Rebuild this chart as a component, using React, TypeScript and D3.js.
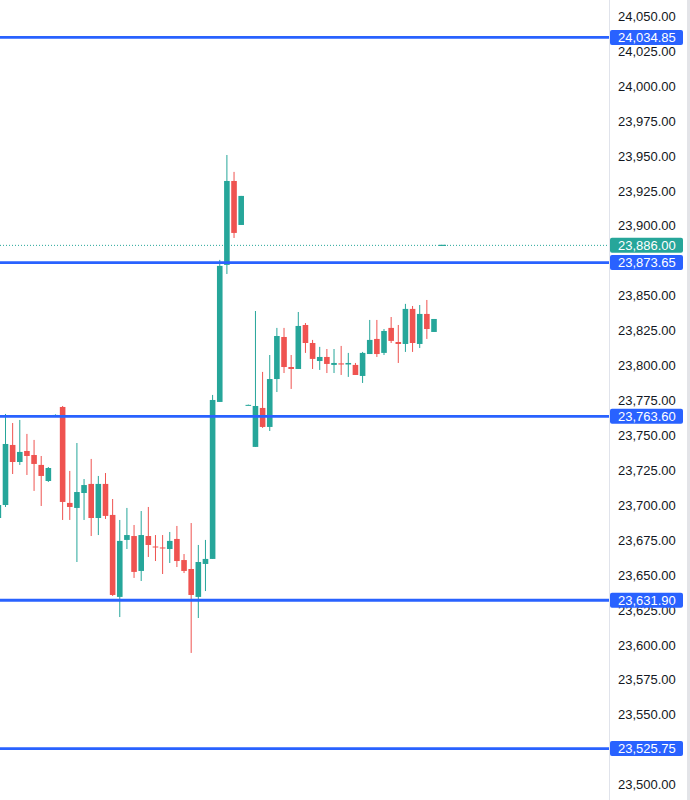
import React from "react";
import * as d3 from "d3";

// OHLC values (one per candle, left to right)
const opens = [23690.8, 23700.1, 23743.1, 23730.9, 23738.8, 23735.9, 23728.8, 23717.3, 23764.4, 23770.3,
  23701.6, 23698.0, 23708.7, 23715.2, 23690.8, 23715.2, 23693.0, 23634.3, 23675.1, 23677.9,
  23652.9, 23677.9, 23670.4, 23669.7, 23668.6, 23675.8, 23660.7, 23654.3, 23634.3, 23657.9,
  23661.5, 23773.9, 23872.0, 23932.1, 23900.6, 23771.7, 23741.7, 23769.6, 23756.0, 23790.3,
  23820.4, 23798.9, 23797.5, 23829.0, 23816.1, 23803.2, 23806.1, 23800.4, 23801.5, 23800.7,
  23800.4, 23792.5, 23808.2, 23819.0, 23809.0, 23826.9, 23816.8, 23815.4, 23840.5, 23815.4,
  23836.9, 23824.0];
const highs = [23703.7, 23765.3, 23758.8, 23761.0, 23751.0, 23746.7, 23735.2, 23727.3, 23765.0, 23771.0,
  23724.5, 23744.5, 23718.7, 23733.1, 23720.9, 23723.0, 23704.4, 23689.4, 23698.0, 23685.8,
  23695.8, 23698.7, 23678.6, 23678.6, 23680.8, 23685.1, 23665.0, 23687.2, 23671.5, 23675.1,
  23778.9, 23875.6, 23950.7, 23938.6, 23921.4, 23772.0, 23839.0, 23795.4, 23807.5, 23826.9,
  23826.9, 23807.5, 23838.3, 23830.4, 23818.3, 23813.3, 23811.8, 23811.8, 23814.0, 23809.0,
  23801.8, 23809.7, 23832.6, 23832.6, 23826.1, 23834.7, 23829.0, 23844.1, 23842.6, 23843.3,
  23846.9, 23833.3];
const lows = [23689.4, 23698.7, 23722.3, 23728.8, 23721.6, 23710.2, 23699.4, 23716.6, 23764.0, 23689.4,
  23689.4, 23659.3, 23689.4, 23677.9, 23678.6, 23690.1, 23635.0, 23619.9, 23668.6, 23647.9,
  23645.7, 23662.9, 23660.0, 23650.7, 23658.6, 23655.7, 23651.4, 23594.2, 23619.2, 23638.5,
  23661.5, 23773.9, 23865.5, 23891.3, 23900.6, 23771.5, 23741.7, 23755.3, 23753.1, 23781.0,
  23794.6, 23783.2, 23797.5, 23809.0, 23797.5, 23796.8, 23794.6, 23794.6, 23793.2, 23791.8,
  23793.2, 23787.5, 23808.2, 23806.1, 23807.5, 23816.1, 23801.8, 23809.7, 23809.7, 23812.5,
  23819.0, 23824.0];
const closes = [23700.1, 23743.8, 23730.9, 23738.1, 23735.2, 23729.5, 23720.9, 23726.6, 23764.6, 23702.3,
  23698.7, 23709.4, 23714.4, 23690.8, 23715.2, 23692.3, 23635.7, 23674.4, 23678.6, 23652.2,
  23678.6, 23671.5, 23669.7, 23669.0, 23674.4, 23660.0, 23652.9, 23635.7, 23659.3, 23661.5,
  23775.3, 23871.3, 23932.1, 23894.9, 23921.4, 23771.8, 23771.0, 23756.0, 23790.3, 23821.1,
  23798.9, 23797.5, 23828.3, 23816.1, 23804.7, 23806.1, 23801.1, 23801.8, 23800.7, 23801.8,
  23793.2, 23809.0, 23818.3, 23808.2, 23824.7, 23817.6, 23815.4, 23840.5, 23816.1, 23836.9,
  23826.1, 23833.3];
const candleIndex = d3.range(opens.length);

// Horizontal levels (blue lines with labels)
const levels = [24034.85, 23873.65, 23763.6, 23631.9, 23525.75];
// Current price (dotted line, green label)
const lastPrice = 23886.0;
// Axis ticks (those fully covered by a level label are not shown in the reference)
const tickValues = d3.range(23500, 24050.001, 25);

const W = 690;
const H = 800;
const AXIS_X = 609.5;
const BLUE = "#2962ff";
const UP = "#26a69a";
const DOWN = "#ef5350";
const FONT = "'Liberation Sans', Arial, sans-serif";

export default function App() {
  const y = d3.scaleLinear().domain([23500, 24050]).range([784.5, 16.3]);
  const x = d3.scaleLinear().domain([0, 61]).range([-1.64, 434]);
  const fmt = d3.format(",.2f");
  const bodyW = 5.6;
  const labelValues = [...levels, lastPrice];
  const visibleTicks = tickValues.filter(
    (v) => !labelValues.some((l) => Math.abs(y(v) - y(l)) < 4)
  );

  return (
    <svg
      width={W}
      height={H}
      style={{ position: "absolute", left: 0, top: 0, background: "#fff" }}
      fontFamily={FONT}
    >
      <rect x={0} y={0} width={W} height={H} fill="#ffffff" />
      <defs>
        <clipPath id="plot">
          <rect x={0} y={0} width={AXIS_X} height={H} />
        </clipPath>
      </defs>

      {/* current price dotted line */}
      <line
        x1={0}
        x2={AXIS_X}
        y1={y(lastPrice)}
        y2={y(lastPrice)}
        stroke={UP}
        strokeWidth={1}
        strokeDasharray="1 2"
      />
      <line x1={439} x2={446} y1={y(lastPrice)} y2={y(lastPrice)} stroke={UP} strokeWidth={1.2} />

      {/* candles */}
      <g clipPath="url(#plot)">
        {candleIndex.map((i) => {
          const o = opens[i];
          const c = closes[i];
          const col = c >= o ? UP : DOWN;
          const cx = x(i);
          const top = y(Math.max(o, c));
          const bot = y(Math.min(o, c));
          return (
            <g key={i}>
              <line x1={cx} x2={cx} y1={y(highs[i])} y2={y(lows[i])} stroke={col} strokeWidth={1} />
              <rect
                x={cx - bodyW / 2}
                y={top}
                width={bodyW}
                height={Math.max(1, bot - top)}
                fill={col}
              />
            </g>
          );
        })}
      </g>

      {/* level lines */}
      {levels.map((v) => (
        <line key={v} x1={0} x2={AXIS_X} y1={y(v)} y2={y(v)} stroke={BLUE} strokeWidth={2.8} />
      ))}

      {/* price axis */}
      <rect x={AXIS_X} y={0} width={W - AXIS_X} height={H} fill="#ffffff" />
      <line x1={AXIS_X} x2={AXIS_X} y1={0} y2={H} stroke="#e0e3eb" strokeWidth={1} />
      <rect x={687} y={0} width={3} height={H} fill="#e3e4e8" />
      {visibleTicks.map((v) => (
        <text
          key={v}
          x={618}
          y={y(v)}
          dy="0.36em"
          fontSize={13}
          fill="#131722"
        >
          {fmt(v)}
        </text>
      ))}

      {/* level labels */}
      {labelValues.map((v) => {
        const isLast = v === lastPrice;
        return (
          <g key={"lab" + v}>
            <rect
              x={610}
              y={y(v) - 7.5}
              width={73}
              height={15}
              rx={2}
              fill={isLast ? UP : BLUE}
            />
            <text x={618} y={y(v)} dy="0.36em" fontSize={13} fill="#ffffff">
              {fmt(v)}
            </text>
          </g>
        );
      })}
    </svg>
  );
}
